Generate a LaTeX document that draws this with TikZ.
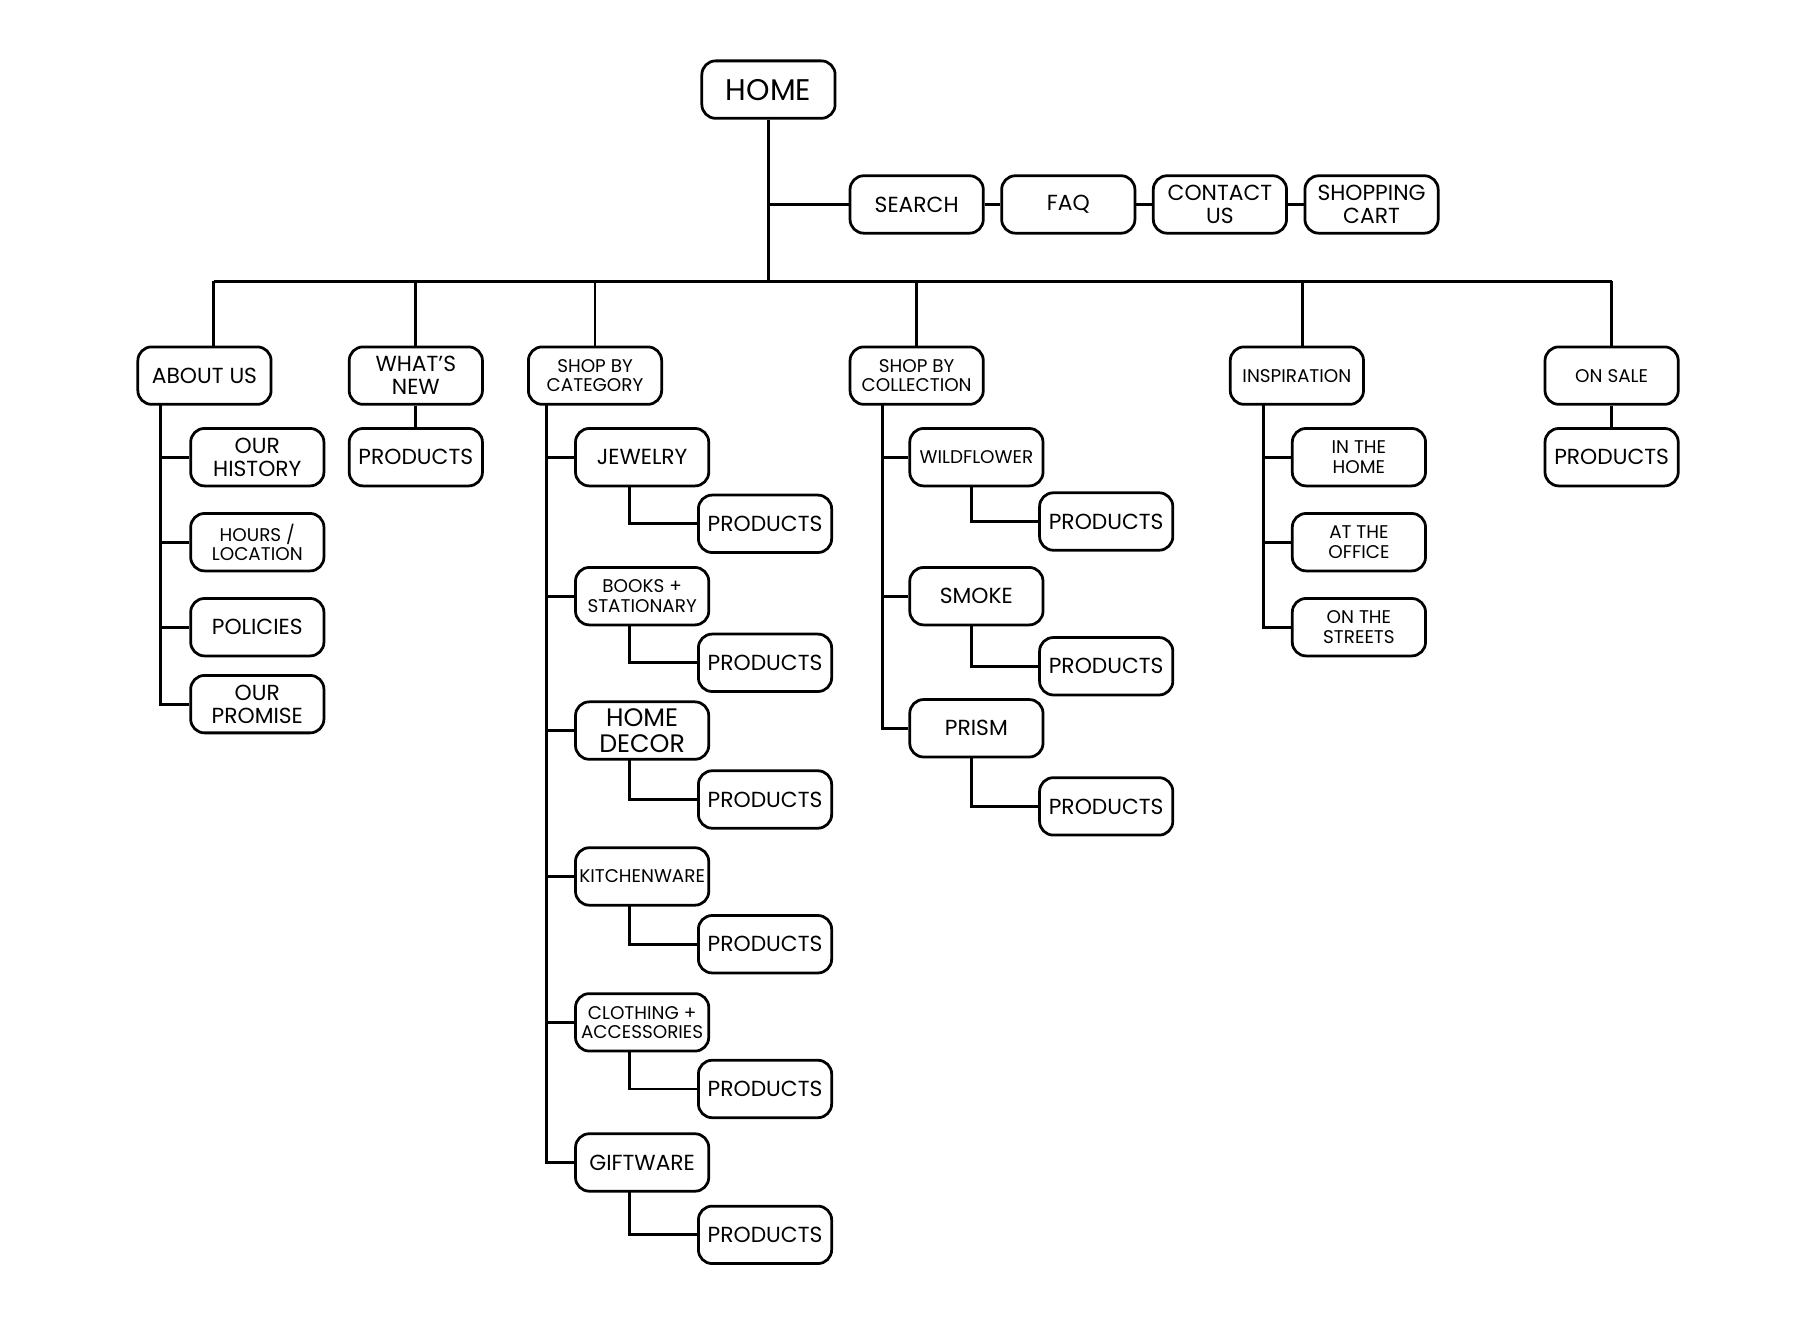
\documentclass[tikz,border=0pt]{standalone}
\usepackage{fontspec}
\setmainfont{Poppins}
\begin{document}
\begin{tikzpicture}[x=0.5pt,y=-0.5pt,line width=1.2pt,
  bx/.style={draw,rounded corners=6pt,minimum width=58pt,minimum height=25pt,align=center,inner sep=1pt,font=\fontsize{9.5}{10}\selectfont},
  bg/.style={bx,font=\fontsize{11}{11}\selectfont},
  sm/.style={bx,font=\fontsize{8}{8.5}\selectfont}]
\useasboundingbox (0,0) rectangle (1567,1166);
\node[bx,font=\fontsize{13}{13}\selectfont] (home) at (669,78) {HOME};
\node[bx] (search) at (798,178) {SEARCH};
\node[bx] (faq) at (930,178) {FAQ};
\node[bx] (contact) at (1062,178) {CONTACT\\US};
\node[bx] (cart) at (1194,178) {SHOPPING\\CART};
\coordinate (hb) at (669,245);
\draw (home.south) -- (hb);
\draw (home.south |- search.west) -- (search.west);
\draw (search) -- (faq) -- (contact) -- (cart);
\node[bx] (about) at (178,327) {ABOUT US};
\node[bx] (new) at (362,327) {WHAT’S\\NEW};
\node[sm] (cat) at (518,327) {SHOP BY\\CATEGORY};
\node[sm] (col) at (798,327) {SHOP BY\\COLLECTION};
\node[sm] (insp) at (1129,327) {INSPIRATION};
\node[sm] (sale) at (1403,327) {ON SALE};
\coordinate (bl) at (186,245); \coordinate (br) at (1403,245);
\draw (bl) -- (br);
\draw (bl) -- (bl |- about.north);
\draw (362,245) -- (new.north);
\draw (518,245) -- (cat.north);
\draw (798,245) -- (col.north);
\draw (1134,245) -- (1134,302);
\draw (br) -- (sale.north);
% about
\node[bx] (a1) at (224,398) {OUR\\HISTORY};
\node[sm] (a2) at (224,472) {HOURS /\\LOCATION};
\node[bx] (a3) at (224,546) {POLICIES};
\node[bx] (a4) at (224,613) {OUR\\PROMISE};
\coordinate (ta) at (140,353);
\foreach \c in {a1,a2,a3,a4} \draw (ta) |- (\c.west);
\node[bx] (np) at (362,398) {PRODUCTS};
\draw (new) -- (np);
\node[bx] (sp) at (1403,398) {PRODUCTS};
\draw (sale) -- (sp);
% category
\coordinate (tc) at (476,353);
\foreach \n/\t/\y/\py/\s in {c1/JEWELRY/398/456/bx, c2/{BOOKS +\\STATIONARY}/519/577/sm, c3/{HOME\\DECOR}/636/696/bg, c4/KITCHENWARE/763/822/sm, c5/{CLOTHING +\\ACCESSORIES}/890/948/sm, c6/GIFTWARE/1012/1075/bx}{
  \node[\s] (\n) at (559,\y) {\t};
  \node[bx] (\n p) at (666,\py) {PRODUCTS};
  \draw (tc) |- (\n.west);
  \draw (548,\y+25) |- (\n p.west);
}
% collection
\coordinate (tl) at (768,353);
\foreach \n/\t/\y/\py/\s in {l1/WILDFLOWER/398/454/sm, l2/SMOKE/519/580/bx, l3/PRISM/634/702/bx}{
  \node[\s] (\n) at (850,\y) {\t};
  \node[bx] (\n p) at (963,\py) {PRODUCTS};
  \draw (tl) |- (\n.west);
  \draw (846,\y+25) |- (\n p.west);
}
% inspiration
\coordinate (ti) at (1100,353);
\foreach \n/\t/\y in {i1/{IN THE\\HOME}/398, i2/{AT THE\\OFFICE}/472, i3/{ON THE\\STREETS}/546}{
  \node[sm] (\n) at (1183,\y) {\t};
  \draw (ti) |- (\n.west);
}
\end{tikzpicture}
\end{document}
